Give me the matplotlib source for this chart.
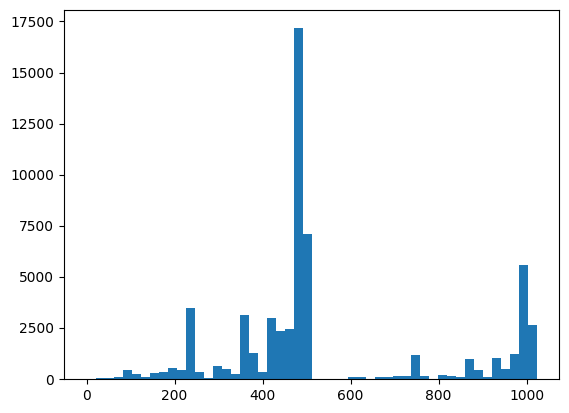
import numpy as np
import matplotlib
matplotlib.use('Agg')
from matplotlib import pyplot as plt

# Histogram counts, 50 bins over 0..1023.
data_min = 0
data_max = 1023
n_bins = 50
counts = [0, 55, 55, 120, 440, 245, 100, 295, 340, 540,
          440, 3470, 340, 50, 635, 490, 245, 3130, 1270, 340,
          2980, 2350, 2445, 17200, 7090, 0, 0, 0, 0, 90,
          90, 0, 100, 100, 150, 150, 1170, 150, 0, 190,
          140, 90, 970, 430, 90, 1020, 480, 1210, 5560, 2630]

edges = np.linspace(data_min, data_max, n_bins + 1)
centers = (edges[:-1] + edges[1:]) / 2

fig = plt.figure(figsize=(5.69, 4.13), dpi=100)
ax = fig.add_axes([0.1125, 0.0823, 0.8705, 0.8935])

# Rebuild the histogram with weights so the bars come from the counts.
ax.hist(centers, bins=edges, weights=counts)

fig.savefig('out.png', dpi=100)
